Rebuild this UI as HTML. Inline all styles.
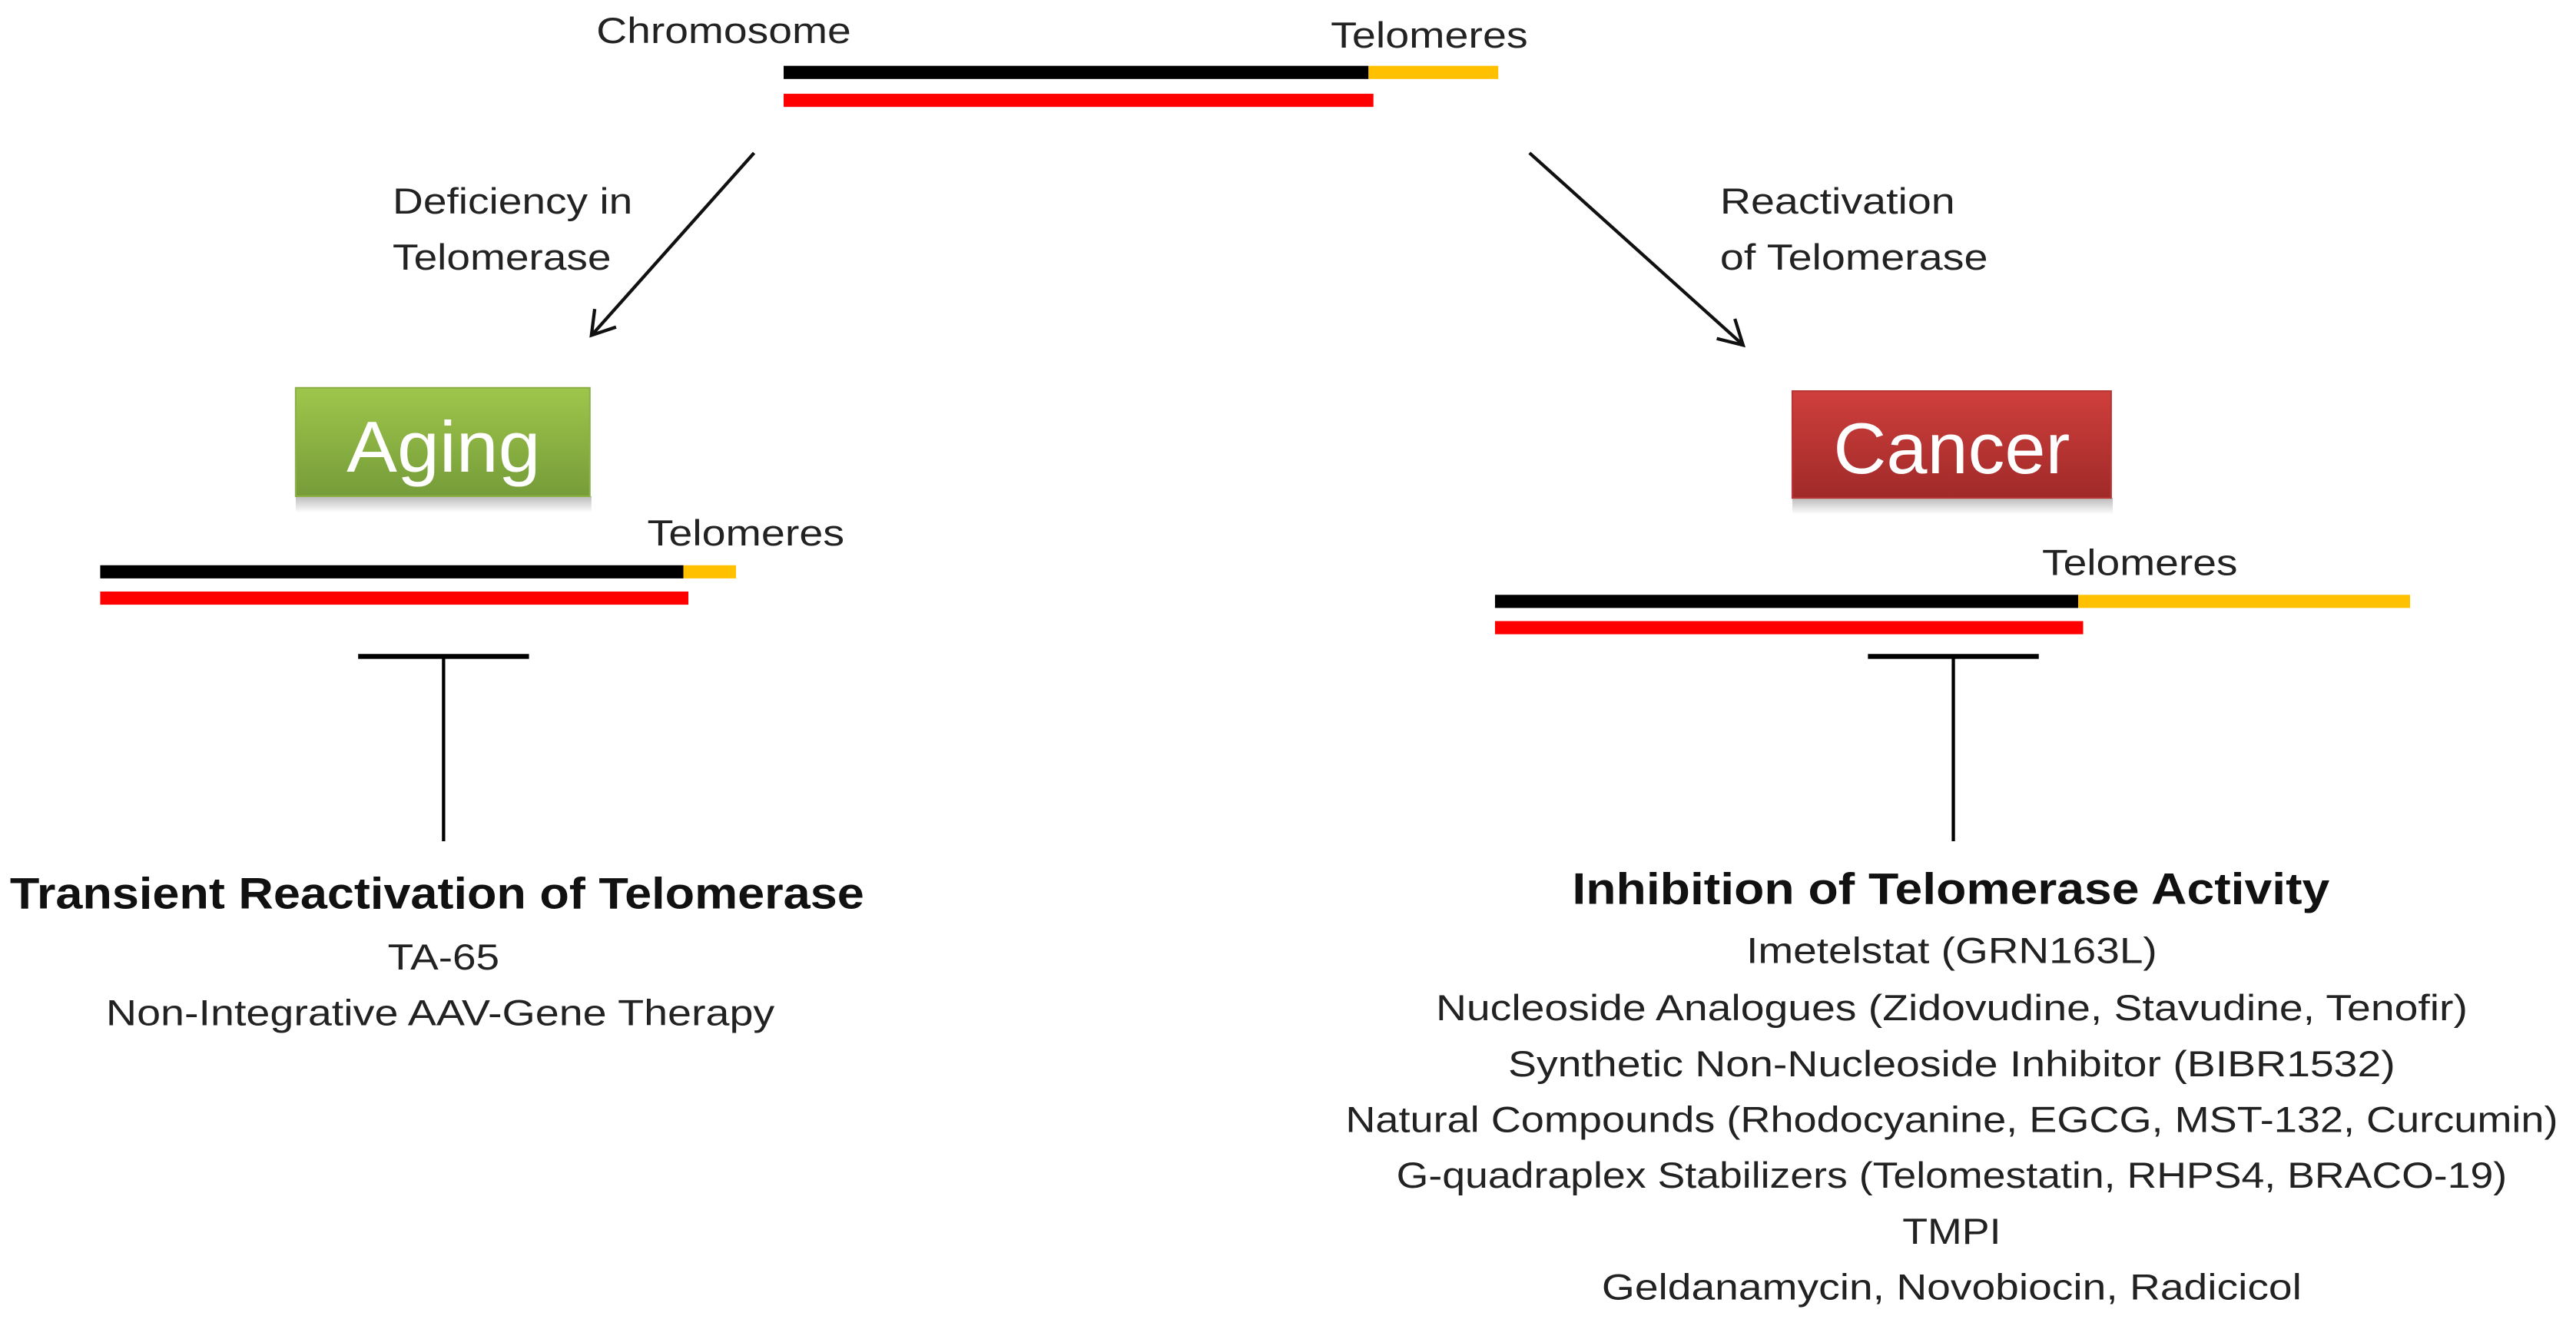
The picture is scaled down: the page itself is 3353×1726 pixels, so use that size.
<!DOCTYPE html>
<html><head><meta charset="utf-8"><style>html,body{margin:0;padding:0;background:#fff}svg{display:block}</style></head>
<body>
<svg width="3353" height="1726" viewBox="0 0 1568 807" xmlns="http://www.w3.org/2000/svg" font-family="'Liberation Sans', sans-serif" fill="#222">
<defs>
<linearGradient id="g" x1="0" y1="0" x2="0" y2="1"><stop offset="0" stop-color="#9fc64b"/><stop offset="1" stop-color="#759c39"/></linearGradient>
<linearGradient id="r" x1="0" y1="0" x2="0" y2="1"><stop offset="0" stop-color="#cf3f3c"/><stop offset="1" stop-color="#a02a29"/></linearGradient>
<linearGradient id="sh" x1="0" y1="0" x2="0" y2="1"><stop offset="0" stop-color="#bbb"/><stop offset="1" stop-color="#fff"/></linearGradient>
</defs>
<text x="363" y="26" font-size="22" textLength="155" lengthAdjust="spacingAndGlyphs">Chromosome</text>
<text x="810" y="29" font-size="22" textLength="120" lengthAdjust="spacingAndGlyphs">Telomeres</text>
<rect x="477" y="40" width="356" height="8" fill="#000"/>
<rect x="833" y="40" width="79" height="8" fill="#ffc000"/>
<rect x="477" y="57" width="359" height="8" fill="#f00"/>
<g stroke="#111" stroke-width="2" fill="none">
<line x1="459" y1="93" x2="361" y2="203"/>
<polyline points="362,188 360,204 375,199"/>
<line x1="931" y1="93" x2="1060" y2="209"/>
<polyline points="1056,194 1061,210 1045,206"/>
</g>
<text x="239" y="130" font-size="22" textLength="146" lengthAdjust="spacingAndGlyphs">Deficiency in</text>
<text x="239" y="164" font-size="22" textLength="133" lengthAdjust="spacingAndGlyphs">Telomerase</text>
<text x="1047" y="130" font-size="22" textLength="143" lengthAdjust="spacingAndGlyphs">Reactivation</text>
<text x="1047" y="164" font-size="22" textLength="163" lengthAdjust="spacingAndGlyphs">of Telomerase</text>
<rect x="180" y="302" width="180" height="10" fill="url(#sh)"/>
<rect x="180" y="236" width="179" height="66" fill="url(#g)" stroke="#8db046" stroke-width="1"/>
<text x="270" y="287" font-size="44" fill="#fff" text-anchor="middle" textLength="118" lengthAdjust="spacingAndGlyphs">Aging</text>
<rect x="1091" y="303" width="195" height="10" fill="url(#sh)"/>
<rect x="1091" y="238" width="194" height="65" fill="url(#r)" stroke="#b83533" stroke-width="1"/>
<text x="1188" y="288" font-size="44" fill="#fff" text-anchor="middle" textLength="144" lengthAdjust="spacingAndGlyphs">Cancer</text>
<text x="394" y="332" font-size="22" textLength="120" lengthAdjust="spacingAndGlyphs">Telomeres</text>
<rect x="61" y="344" width="355" height="8" fill="#000"/>
<rect x="416" y="344" width="32" height="8" fill="#ffc000"/>
<rect x="61" y="360" width="358" height="8" fill="#f00"/>
<text x="1243" y="350" font-size="22" textLength="119" lengthAdjust="spacingAndGlyphs">Telomeres</text>
<rect x="910" y="362" width="355" height="8" fill="#000"/>
<rect x="1265" y="362" width="202" height="8" fill="#ffc000"/>
<rect x="910" y="378" width="358" height="8" fill="#f00"/>
<rect x="218" y="398" width="104" height="3" fill="#000"/>
<rect x="269" y="399" width="2" height="113" fill="#000"/>
<rect x="1137" y="398" width="104" height="3" fill="#000"/>
<rect x="1188" y="399" width="2" height="113" fill="#000"/>
<text x="6" y="553" font-size="27" font-weight="bold" fill="#111" textLength="520" lengthAdjust="spacingAndGlyphs">Transient Reactivation of Telomerase</text>
<text x="270" y="590" font-size="22" text-anchor="middle" textLength="68" lengthAdjust="spacingAndGlyphs">TA-65</text>
<text x="268" y="624" font-size="22" text-anchor="middle" textLength="407" lengthAdjust="spacingAndGlyphs">Non-Integrative AAV-Gene Therapy</text>
<text x="957" y="550" font-size="27" font-weight="bold" fill="#111" textLength="461" lengthAdjust="spacingAndGlyphs">Inhibition of Telomerase Activity</text>
<g font-size="22" text-anchor="middle">
<text x="1188" y="586" textLength="250" lengthAdjust="spacingAndGlyphs">Imetelstat (GRN163L)</text>
<text x="1188" y="621" textLength="628" lengthAdjust="spacingAndGlyphs">Nucleoside Analogues (Zidovudine, Stavudine, Tenofir)</text>
<text x="1188" y="655" textLength="540" lengthAdjust="spacingAndGlyphs">Synthetic Non-Nucleoside Inhibitor (BIBR1532)</text>
<text x="1188" y="689" textLength="738" lengthAdjust="spacingAndGlyphs">Natural Compounds (Rhodocyanine, EGCG, MST-132, Curcumin)</text>
<text x="1188" y="723" textLength="676" lengthAdjust="spacingAndGlyphs">G-quadraplex Stabilizers (Telomestatin, RHPS4, BRACO-19)</text>
<text x="1188" y="757" textLength="60" lengthAdjust="spacingAndGlyphs">TMPI</text>
<text x="1188" y="791" textLength="426" lengthAdjust="spacingAndGlyphs">Geldanamycin, Novobiocin, Radicicol</text>
</g>
</svg>
</body></html>
